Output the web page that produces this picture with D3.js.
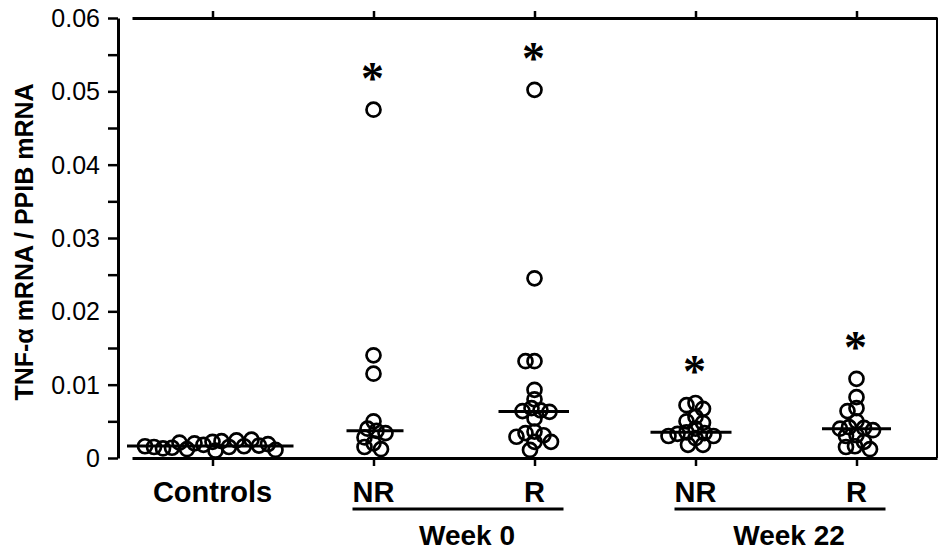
<!DOCTYPE html>
<html>
<head>
<meta charset="utf-8">
<script src="https://cdn.jsdelivr.net/npm/d3@7"></script>
<style>
  body { margin: 0; background: #fff; }
  svg { display: block; }
  text { font-family: Arial, "Liberation Sans", Helvetica, sans-serif; fill: #000; }
</style>
</head>
<body>
<svg id="chart"></svg>
<script>
var width = 943;
var height = 550;

// groups along the x axis
var groups = ['Controls', 'NR0', 'R0', 'NR22', 'R22'];
var groupLabels = ['Controls', 'NR', 'R', 'NR', 'R'];

// TNF-a / PPIB ratios
var controls = [0.0022, 0.0018, 0.0023, 0.0015, 0.0020, 0.0012, 0.0024, 0.0016, 0.0010,
                0.0021, 0.0014, 0.0025, 0.0017, 0.0013, 0.0019, 0.0015, 0.0011, 0.0016];
var nrWeek0 = [0.0475, 0.0140, 0.0115, 0.0050, 0.0040, 0.0037, 0.0034, 0.0028, 0.0020, 0.0015, 0.0012];
var rWeek0 = [0.0502, 0.0245, 0.0132, 0.0132, 0.0093, 0.0080, 0.0068, 0.0065, 0.0064, 0.0063,
              0.0054, 0.0036, 0.0034, 0.0031, 0.0029, 0.0022, 0.0022, 0.0011];
var nrWeek22 = [0.0075, 0.0072, 0.0067, 0.0056, 0.0050, 0.0048, 0.0040, 0.0035, 0.0034, 0.0033,
                0.0030, 0.0030, 0.0027, 0.0018, 0.0018];
var rWeek22 = [0.0108, 0.0083, 0.0068, 0.0064, 0.0050, 0.0042, 0.0041, 0.0040, 0.0038, 0.0031,
               0.0030, 0.0022, 0.0016, 0.0015, 0.0012];
var groupValues = [controls, nrWeek0, rWeek0, nrWeek22, rWeek22];

// groups marked significant
var starred = ['NR0', 'R0', 'NR22', 'R22'];

var yTicks = [0, 0.01, 0.02, 0.03, 0.04, 0.05, 0.06];
var weeks = [
  { label: 'Week 0', from: 'NR0', to: 'R0' },
  { label: 'Week 22', from: 'NR22', to: 'R22' }
];

var svg = d3.select('#chart')
    .attr('width', width)
    .attr('height', height);

var xScale = d3.scalePoint()
    .domain(groups)
    .range([132, 937])
    .padding(0.5);

var yScale = d3.scaleLinear()
    .domain([0, 0.06])
    .range([458, 18]);

// y axis with minor ticks
var yAxis = svg.append('g')
    .attr('transform', 'translate(118,0)')
    .call(d3.axisLeft(yScale)
      .tickValues(d3.range(0, 0.0601, 0.005))
      .tickSize(10)
      .tickSizeOuter(0)
      .tickFormat(''));
yAxis.select('.domain').attr('stroke-width', 3);
yAxis.selectAll('.tick line').attr('stroke-width', 2.5);

svg.append('g')
  .selectAll('text')
  .data(yTicks)
  .enter()
  .append('text')
    .attr('x', 100)
    .attr('y', d => yScale(d) + 9)
    .attr('text-anchor', 'end')
    .style('font-size', '25px')
    .text(d => d === 0 ? '0' : d3.format('.2f')(d));

svg.append('text')
    .attr('transform', 'translate(33,' + 242 + ') rotate(-90)')
    .attr('text-anchor', 'middle')
    .style('font-size', '25px')
    .style('font-weight', 'bold')
    .text('TNF-\u03b1 mRNA / PPIB mRNA');

// frame: bottom axis, top axis, right side
var bottomAxis = svg.append('g')
    .attr('transform', 'translate(0,' + yScale(0) + ')')
    .call(d3.axisBottom(xScale).tickSize(8).tickSizeOuter(0).tickFormat(''));
bottomAxis.select('.domain').attr('stroke-width', 3);
bottomAxis.selectAll('.tick line').attr('stroke-width', 2.5);

var topAxis = svg.append('g')
    .attr('transform', 'translate(0,' + yScale(0.06) + ')')
    .call(d3.axisTop(xScale).tickSize(7).tickSizeOuter(0).tickFormat(''));
topAxis.select('.domain').attr('stroke-width', 3);
topAxis.selectAll('.tick line').attr('stroke-width', 2.5);

svg.append('line')
    .attr('x1', 937).attr('x2', 937)
    .attr('y1', yScale(0.06)).attr('y2', yScale(0))
    .attr('stroke', '#000')
    .attr('stroke-width', 2);

// simple dodge layout so points in a group do not sit on top of each other
var radius = 7;
var minDist = 9;
function dodge(values) {
  var placed = [];
  values.forEach(function(v) {
    var y = yScale(v);
    for (var k = 0; k < 300; k++) {
      var dx = (k % 2 === 0 ? 1 : -1) * Math.ceil(k / 2) * 1.5;
      var ok = placed.every(p => (p.dx - dx) * (p.dx - dx) + (p.y - y) * (p.y - y) >= minDist * minDist);
      if (ok) { placed.push({ v: v, y: y, dx: dx }); break; }
    }
  });
  return placed;
}

groups.forEach(function(g, i) {
  var pts = dodge(groupValues[i]);
  var cx = xScale(g);

  svg.append('g')
    .selectAll('circle')
    .data(pts)
    .enter()
    .append('circle')
      .attr('cx', d => cx + d.dx)
      .attr('cy', d => d.y)
      .attr('r', radius)
      .attr('fill', 'none')
      .attr('stroke', '#000')
      .attr('stroke-width', 2.7);

  var med = d3.median(groupValues[i]);
  var lo = d3.min(pts, d => d.dx) - 18;
  var hi = d3.max(pts, d => d.dx) + 18;
  svg.append('line')
      .attr('x1', cx + lo).attr('x2', cx + hi)
      .attr('y1', yScale(med)).attr('y2', yScale(med))
      .attr('stroke', '#000')
      .attr('stroke-width', 3);

  if (starred.indexOf(g) >= 0) {
    svg.append('text')
        .attr('x', cx - 1)
        .attr('y', yScale(d3.max(groupValues[i])) - 38 + 22)
        .attr('text-anchor', 'middle')
        .style('font-family', '"Liberation Serif", "Times New Roman", serif')
        .style('font-size', '46px')
        .style('font-weight', 'bold')
        .text('*');
  }

  svg.append('text')
      .attr('x', cx)
      .attr('y', 502)
      .attr('text-anchor', 'middle')
      .style('font-size', '29px')
      .style('font-weight', 'bold')
      .text(groupLabels[i]);
});

weeks.forEach(function(w) {
  var x1 = xScale(w.from) - 21;
  var x2 = xScale(w.to) + 29;
  svg.append('line')
      .attr('x1', x1).attr('x2', x2)
      .attr('y1', 509).attr('y2', 509)
      .attr('stroke', '#000')
      .attr('stroke-width', 3);
  svg.append('text')
      .attr('x', (x1 + x2) / 2 + 9)
      .attr('y', 545)
      .attr('text-anchor', 'middle')
      .style('font-size', '28px')
      .style('font-weight', 'bold')
      .text(w.label);
});
</script>
</body>
</html>
